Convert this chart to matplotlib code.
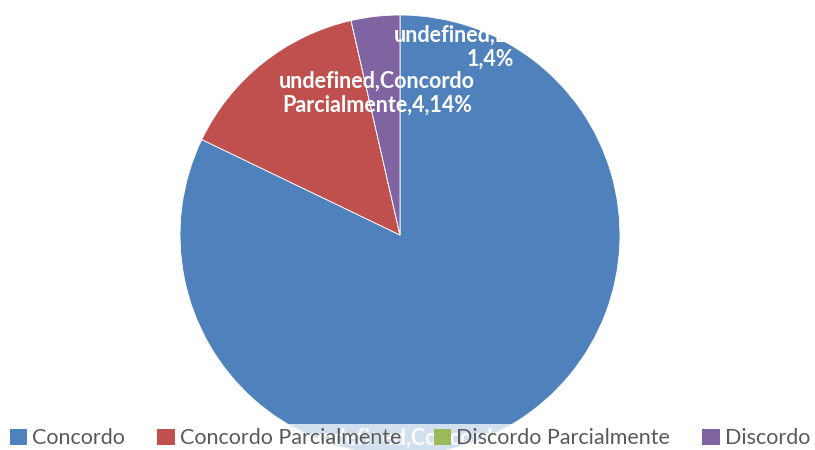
import matplotlib
matplotlib.use("Agg")
import matplotlib.pyplot as plt
from matplotlib.patches import Patch

categories = ["Concordo", "Concordo Parcialmente", "Discordo Parcialmente", "Discordo"]
counts = [23, 4, 0, 1]
colors = ["#4F81BD", "#C0504D", "#9BBB59", "#8064A2"]

plt.rcParams['font.family'] = ['Lato', 'DejaVu Sans']

fig = plt.figure(figsize=(8.15, 4.5), dpi=100)
ax = fig.add_axes([0, 0, 1, 1])

# pie in pixel coordinates, starts at 12 o'clock and goes clockwise
ax.pie(counts, colors=colors, startangle=90, counterclock=False,
       center=(400, 215), radius=220,
       wedgeprops=dict(edgecolor="white", linewidth=0.6))
ax.set_xlim(0, 815)
ax.set_ylim(0, 450)
ax.set_aspect("equal")
ax.axis("off")

total = sum(counts)
pcts = [round(100 * v / total) for v in counts]

# label spots taken from the original layout (x, y in pixels from top-left)
label_spots = [
    ("undefined,%s,\n%d,%d%%" % (categories[0], counts[0], pcts[0]), 410, 450),
    ("undefined,Concordo\nParcialmente,%d,%d%%" % (counts[1], pcts[1]), 377, 93),
    ("undefined,%s,\n%d,%d%%" % (categories[3], counts[3], pcts[3]), 490, 47),
]
for txt, x, y in label_spots:
    ax.text(x, 450 - y, txt, color="white", fontsize=15.5, fontweight="bold",
            ha="center", va="center", linespacing=1.15, zorder=3)

handles = [Patch(facecolor=c, edgecolor="none") for c in colors]
leg = fig.legend(handles, categories, loc="lower center", bbox_to_anchor=(0.503, -0.03),
                 ncol=4, frameon=True, fontsize=15.5, handlelength=0.8, handleheight=0.8,
                 handletextpad=0.25, columnspacing=1.5, borderpad=0.2)
leg.get_frame().set_facecolor("white")
leg.get_frame().set_alpha(0.75)
leg.get_frame().set_edgecolor("none")
leg.set_zorder(5)
for t in leg.get_texts():
    t.set_color("#595959")

fig.savefig("out.png", dpi=100)
